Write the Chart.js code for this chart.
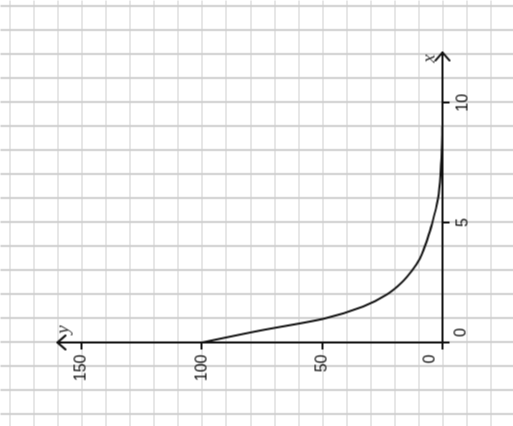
<!DOCTYPE html>
<html>
<head>
<meta charset="utf-8">
<script src="https://cdn.jsdelivr.net/npm/chart.js@4/dist/chart.umd.min.js"></script>
<style>
  html, body { margin: 0; padding: 0; background: #fff; overflow: hidden; }
  body { width: 513px; height: 426px; position: relative; }
  /* the picture is the plot turned a quarter turn anticlockwise */
  #wrap {
    position: absolute; left: 43.5px; top: -43.5px;
    width: 426px; height: 513px;
    transform: rotate(-90deg);
  }
</style>
</head>
<body>
<div id="wrap"><canvas id="decay" width="426" height="513"></canvas></div>
<script>
// values
const xValues = [0, 0.5, 1, 1.5, 2, 2.5, 3, 3.5, 4, 4.5, 5, 6, 7, 8, 9];
const yValues = [100, 75.7, 49, 33, 23.2, 17, 12.7, 9.4, 7.4, 5.7, 4.2, 1.9, 0.8, 0.3, 0.1];
const xTicks = [0, 5, 10];
const yTicks = [0, 50, 100, 150];

const points = xValues.map((x, i) => ({ x: x, y: yValues[i] }));
const tickFont = '16px "Liberation Sans", Arial';

// graph paper behind, arrows and axis names on top
const paperPlugin = {
  id: 'paper',
  beforeDraw(chart) {
    const ctx = chart.ctx;
    const xs = chart.scales.x, ys = chart.scales.y;
    ctx.save();
    ctx.fillStyle = '#fff';
    ctx.fillRect(0, 0, chart.width, chart.height);
    // one line per x unit
    ctx.strokeStyle = '#bdbdbd';
    ctx.lineWidth = 1.5;
    for (let v = -5; v <= 16; v++) {
      const p = Math.round(xs.getPixelForValue(v)) + 0.5;
      if (p < 0 || p > chart.width) continue;
      ctx.beginPath(); ctx.moveTo(p, 0); ctx.lineTo(p, chart.height); ctx.stroke();
    }
    // one line per 10 y units
    ctx.strokeStyle = '#cfcfcf';
    ctx.lineWidth = 1;
    for (let v = -40; v <= 200; v += 10) {
      const p = Math.round(ys.getPixelForValue(v)) + 0.5;
      if (p < 0 || p > chart.height) continue;
      ctx.beginPath(); ctx.moveTo(0, p); ctx.lineTo(chart.width, p); ctx.stroke();
    }
    ctx.restore();
  },
  afterDraw(chart) {
    const ctx = chart.ctx;
    const xs = chart.scales.x, ys = chart.scales.y;
    const ox = xs.getPixelForValue(0), oy = ys.getPixelForValue(0);
    const xEnd = xs.right, yEnd = ys.top;
    ctx.save();
    ctx.strokeStyle = '#111';
    ctx.lineWidth = 2;
    ctx.lineCap = 'round';
    ctx.lineJoin = 'round';
    // x arrow
    ctx.beginPath();
    ctx.moveTo(xEnd - 8, oy - 7); ctx.lineTo(xEnd, oy); ctx.lineTo(xEnd - 8, oy + 7);
    ctx.stroke();
    // y arrow
    ctx.beginPath();
    ctx.moveTo(ox - 7, yEnd + 8); ctx.lineTo(ox, yEnd); ctx.lineTo(ox + 7, yEnd + 8);
    ctx.stroke();
    ctx.fillStyle = '#333';
    ctx.font = 'italic 19px "Liberation Serif"';
    ctx.textAlign = 'center';
    ctx.textBaseline = 'middle';
    ctx.fillText('x', xEnd - 6, oy - 13);
    ctx.fillText('y', ox + 13, yEnd + 6);
    // the two zero labels sit a little away from the corner
    ctx.fillStyle = '#111';
    ctx.font = tickFont;
    ctx.fillText('0', ox + 10, oy + 19);
    ctx.textAlign = 'right';
    ctx.fillText('0', ox - 12, oy - 12);
    ctx.restore();
  }
};

const setTicks = (list) => (scale) => {
  scale.ticks = list.map(v => ({ value: v }));
};
const skipZero = (v) => (v === 0 ? '' : String(v));

new Chart(document.getElementById('decay'), {
  type: 'scatter',
  data: {
    datasets: [{
      data: points,
      showLine: true,
      borderColor: '#111',
      borderWidth: 2,
      pointRadius: 0,
      cubicInterpolationMode: 'monotone'
    }]
  },
  options: {
    responsive: false,
    animation: false,
    devicePixelRatio: 1,
    layout: { padding: { left: 0, right: 52, top: 57, bottom: 0 } },
    plugins: { legend: { display: false }, tooltip: { enabled: false } },
    scales: {
      x: {
        type: 'linear',
        min: 0,
        max: 12.1,
        afterBuildTicks: setTicks(xTicks),
        afterFit: (s) => { s.height = 71; },
        border: { display: true, color: '#111', width: 2 },
        grid: { drawOnChartArea: false, drawTicks: true, tickLength: 7, color: '#111', lineWidth: 2 },
        ticks: { color: '#111', padding: 4, maxRotation: 0, autoSkip: false, callback: skipZero,
                 font: { family: '"Liberation Sans", Arial', size: 16 } }
      },
      y: {
        type: 'linear',
        min: 0,
        max: 160,
        afterBuildTicks: setTicks(yTicks),
        afterFit: (s) => { s.width = 84; },
        border: { display: true, color: '#111', width: 2 },
        grid: { drawOnChartArea: false, drawTicks: true, tickLength: 7, color: '#111', lineWidth: 2 },
        ticks: { color: '#111', padding: 5, autoSkip: false, callback: skipZero,
                 font: { family: '"Liberation Sans", Arial', size: 16 } }
      }
    }
  },
  plugins: [paperPlugin]
});
</script>
</body>
</html>
